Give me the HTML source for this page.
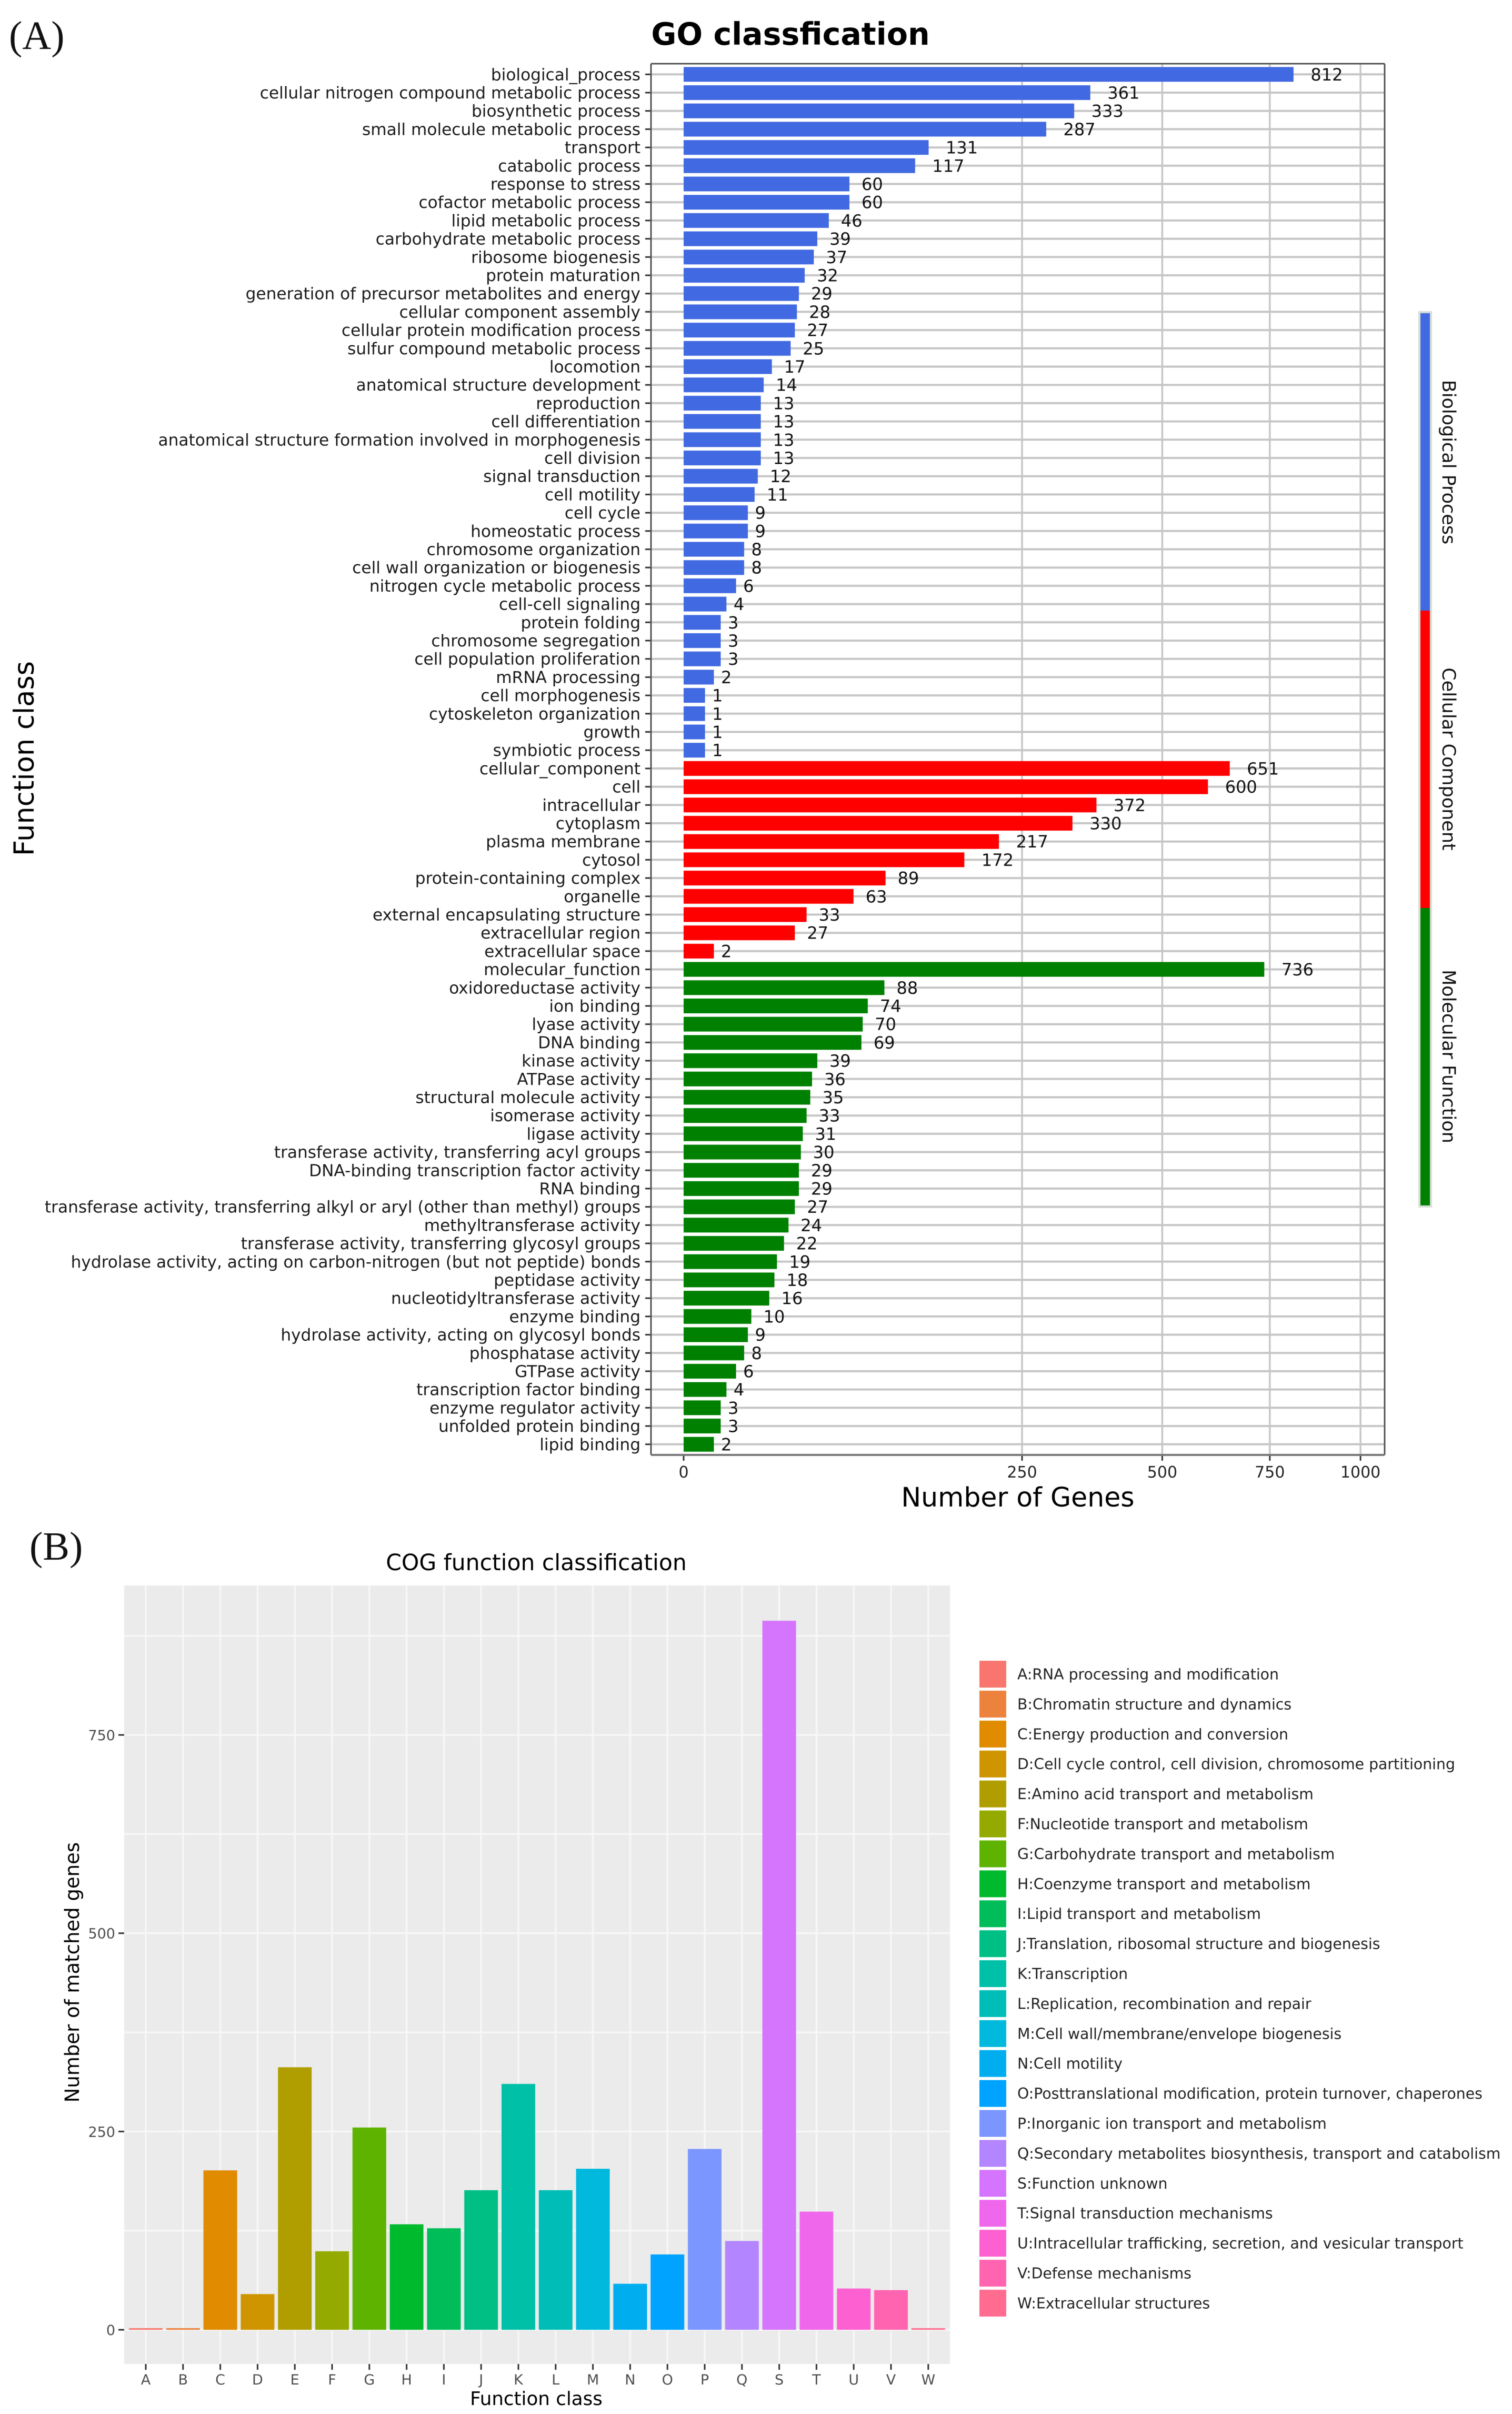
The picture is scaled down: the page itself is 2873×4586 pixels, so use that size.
<!DOCTYPE html>
<html lang="en">
<head>
<meta charset="utf-8">
<title>GO and COG classification</title>
<style>
  html, body { margin: 0; padding: 0; background: #fff; }
  svg { display: block; filter: blur(0.8px); }
  text { font-family: "DejaVu Sans", "Liberation Sans", sans-serif; }
  .serif { font-family: "Liberation Serif", serif; }
</style>
</head>
<body>
<svg id="figure" xmlns="http://www.w3.org/2000/svg" width="2873" height="4586" viewBox="0 0 2873 4586">
  <rect x="0" y="0" width="2873" height="4586" fill="#ffffff"/>
  <text class="serif" x="17" y="93" font-size="76" fill="#111">(A)</text>
  <text class="serif" x="56" y="2963" font-size="76" fill="#111">(B)</text>

  <g id="go-chart">
    <text x="1502" y="85" font-size="58.5" font-weight="bold" text-anchor="middle" fill="#000">GO classfication</text>
    <text transform="translate(64,1441) rotate(-90)" font-size="52.5" text-anchor="middle" fill="#000">Function class</text>
    <text x="1934" y="2862" font-size="50.5" text-anchor="middle" fill="#000">Number of Genes</text>
  </g>

  <g id="cog-chart">
    <text x="1019" y="2983" font-size="42.5" text-anchor="middle" fill="#000">COG function classification</text>
    <text transform="translate(150,3747) rotate(-90)" font-size="37" text-anchor="middle" fill="#000">Number of matched genes</text>
    <text x="1019" y="4569" font-size="35.7" text-anchor="middle" fill="#000">Function class</text>
  </g>
</svg>

<script>
// ---------- GO chart data ----------
const goCategories = [
  "biological_process","cellular nitrogen compound metabolic process","biosynthetic process","small molecule metabolic process","transport","catabolic process","response to stress","cofactor metabolic process","lipid metabolic process","carbohydrate metabolic process","ribosome biogenesis","protein maturation","generation of precursor metabolites and energy","cellular component assembly","cellular protein modification process","sulfur compound metabolic process","locomotion","anatomical structure development","reproduction","cell differentiation","anatomical structure formation involved in morphogenesis","cell division","signal transduction","cell motility","cell cycle","homeostatic process","chromosome organization","cell wall organization or biogenesis","nitrogen cycle metabolic process","cell-cell signaling","protein folding","chromosome segregation","cell population proliferation","mRNA processing","cell morphogenesis","cytoskeleton organization","growth","symbiotic process",
  "cellular_component","cell","intracellular","cytoplasm","plasma membrane","cytosol","protein-containing complex","organelle","external encapsulating structure","extracellular region","extracellular space",
  "molecular_function","oxidoreductase activity","ion binding","lyase activity","DNA binding","kinase activity","ATPase activity","structural molecule activity","isomerase activity","ligase activity","transferase activity, transferring acyl groups","DNA-binding transcription factor activity","RNA binding","transferase activity, transferring alkyl or aryl (other than methyl) groups","methyltransferase activity","transferase activity, transferring glycosyl groups","hydrolase activity, acting on carbon-nitrogen (but not peptide) bonds","peptidase activity","nucleotidyltransferase activity","enzyme binding","hydrolase activity, acting on glycosyl bonds","phosphatase activity","GTPase activity","transcription factor binding","enzyme regulator activity","unfolded protein binding","lipid binding"
];
const goValues = [
  812,361,333,287,131,117,60,60,46,39,37,32,29,28,27,25,17,14,13,13,13,13,12,11,9,9,8,8,6,4,3,3,3,2,1,1,1,1,
  651,600,372,330,217,172,89,63,33,27,2,
  736,88,74,70,69,39,36,35,33,31,30,29,29,27,24,22,19,18,16,10,9,8,6,4,3,3,2
];
const goGroups = ["Biological Process","Cellular Component","Molecular Function"];
const goGroupSizes = [38,11,27];
const goGroupColors = ["#4169e1","#ff0000","#008000"];
const goXTicks = [0,250,500,750,1000];

// ---------- COG chart data ----------
const cogCategories = ["A","B","C","D","E","F","G","H","I","J","K","L","M","N","O","P","Q","S","T","U","V","W"];
const cogValues = [2,2,201,45,331,99,255,133,128,176,310,176,203,58,95,228,112,894,149,52,50,2];
const cogDescriptions = [
  "RNA processing and modification","Chromatin structure and dynamics","Energy production and conversion","Cell cycle control, cell division, chromosome partitioning","Amino acid transport and metabolism","Nucleotide transport and metabolism","Carbohydrate transport and metabolism","Coenzyme transport and metabolism","Lipid transport and metabolism","Translation, ribosomal structure and biogenesis","Transcription","Replication, recombination and repair","Cell wall/membrane/envelope biogenesis","Cell motility","Posttranslational modification, protein turnover, chaperones","Inorganic ion transport and metabolism","Secondary metabolites biosynthesis, transport and catabolism","Function unknown","Signal transduction mechanisms","Intracellular trafficking, secretion, and vesicular transport","Defense mechanisms","Extracellular structures"
];
const cogColors = ["#F8766D","#EC823C","#E08B00","#CE9500","#B09E00","#94AA00","#5EB300","#00BA2E","#00BC59","#00BF85","#00C0A8","#00BDB8","#00B9DC","#00AEF0","#00A3FF","#7C96FF","#B385FF","#D575FE","#EF67EB","#FD61D1","#FF64B0","#FF6C90"];
const cogYTicks = [0,250,500,750];
const cogYMinorTicks = [125,375,625,875];

const NS = "http://www.w3.org/2000/svg";
const svg = document.getElementById("figure");
const goRoot = document.getElementById("go-chart");
const cogRoot = document.getElementById("cog-chart");

function mk(tag, parent, attrs, txt) {
  const el = document.createElementNS(NS, tag);
  for (const k in attrs) el.setAttribute(k, attrs[k]);
  if (txt !== undefined) el.textContent = txt;
  parent.appendChild(el);
  return el;
}
function slug(s) {
  return String(s).toLowerCase().replace(/[^a-z0-9]+/g, "-").replace(/^-|-$/g, "");
}

// ---------- GO axes ----------
const goPanel = { left: 1237, right: 2631, top: 121, bottom: 2764 };
const goXZero = 1299, goXUnit = 40.67;
function goX(v) { return goXZero + goXUnit * Math.sqrt(v); }
const goRowTop = 141.3, goRowStep = 34.7, goBarH = 28;
function goY(i) { return goRowTop + i * goRowStep; }
function goGroupIndex(i) {
  let acc = 0;
  for (let g = 0; g < goGroupSizes.length; g++) {
    acc += goGroupSizes[g];
    if (i < acc) return g;
  }
  return goGroupSizes.length - 1;
}

let el = mk("rect", goRoot, { x: goPanel.left, y: goPanel.top, width: goPanel.right - goPanel.left, height: goPanel.bottom - goPanel.top, fill: "#ffffff" });



goCategories.forEach(function (c, i) {
  const line = mk("line", goRoot, { x1: goPanel.left, x2: goPanel.right, y1: goY(i), y2: goY(i), stroke: "#c6c6c6", "stroke-width": 4 });
  
  
});
goXTicks.forEach(function (t) {
  if (t === 0) return;
  const line = mk("line", goRoot, { x1: goX(t), x2: goX(t), y1: goPanel.top, y2: goPanel.bottom, stroke: "#c6c6c6", "stroke-width": 3.5 });
  
  
});

goCategories.forEach(function (c, i) {
  const y = goY(i), v = goValues[i], color = goGroupColors[goGroupIndex(i)];
  const bar = mk("rect", goRoot, { x: goX(0), y: y - goBarH / 2, width: goX(v) - goX(0), height: goBarH, fill: color });
  
  

  const tick = mk("line", goRoot, { x1: goPanel.left - 11, x2: goPanel.left, y1: y, y2: y, stroke: "#333", "stroke-width": 3 });
  
  

  const label = mk("text", goRoot, { x: goPanel.left - 20, y: y + 11, "font-size": 31.2, "text-anchor": "end", fill: "#1a1a1a" }, c);
  
  

  const digits = String(v).length;
  const val = mk("text", goRoot, { x: goX(v) + 4 + digits * 9.5, y: y + 11.5, "font-size": 32, fill: "#111" }, v);
  
  
});

goXTicks.forEach(function (t) {
  const tick = mk("line", goRoot, { x1: goX(t), x2: goX(t), y1: goPanel.bottom, y2: goPanel.bottom + 11, stroke: "#333", "stroke-width": 3 });
  
  
  const label = mk("text", goRoot, { x: goX(t), y: 2807, "font-size": 30, "text-anchor": "middle", fill: "#222" }, t);
  
  
});

[["top", goPanel.left, goPanel.top, goPanel.right, goPanel.top, "#555", 3],
 ["left", goPanel.left, goPanel.top, goPanel.left, goPanel.bottom, "#555", 3],
 ["right", goPanel.right, goPanel.top, goPanel.right, goPanel.bottom, "#555", 3],
 ["bottom", goPanel.left, goPanel.bottom, goPanel.right, goPanel.bottom, "#777", 4]].forEach(function (b) {
  const border = mk("line", goRoot, { x1: b[1], y1: b[2], x2: b[3], y2: b[4], stroke: b[5], "stroke-width": b[6] });
  
  
});

// group side strips
const goStripTop = 595, goStripBottom = 2290, goStripX = 2699, goStripW = 18;
const goStripStep = (goStripBottom - goStripTop) / goGroups.length;
goGroups.forEach(function (g, i) {
  const y0 = goStripTop + i * goStripStep;
  const halo = mk("rect", goRoot, { x: goStripX - 4, y: y0 - (i === 0 ? 4 : 0), width: goStripW + 8, height: goStripStep + (i === 0 || i === 2 ? 4 : 0), fill: "#d6dfd6" });
  
  
  const strip = mk("rect", goRoot, { x: goStripX, y: y0, width: goStripW, height: goStripStep, fill: goGroupColors[i] });
  
  
  const cy = [878, 1442, 2007][i];
  const lab = mk("text", goRoot, { transform: "translate(2741," + cy + ") rotate(90)", "font-size": 35, "text-anchor": "middle", fill: "#111" }, g);
  
  
});

// ---------- COG axes ----------
const cogPanel = { left: 236, right: 1805, top: 3012, bottom: 4491 };
const cogYZero = 4426, cogYUnit = 1.5067;
function cogY(v) { return cogYZero - cogYUnit * v; }
const cogXFirst = 277, cogXStep = 70.8, cogBarW = 64;
function cogX(i) { return cogXFirst + i * cogXStep; }

el = mk("rect", cogRoot, { x: cogPanel.left, y: cogPanel.top, width: cogPanel.right - cogPanel.left, height: cogPanel.bottom - cogPanel.top, fill: "#ebebeb" });



cogYMinorTicks.concat(cogYTicks).forEach(function (t) {
  const line = mk("line", cogRoot, { x1: cogPanel.left, x2: cogPanel.right, y1: cogY(t), y2: cogY(t), stroke: "#f7f7f7", "stroke-width": 3.5 });
  
  
});
cogCategories.forEach(function (c, i) {
  const line = mk("line", cogRoot, { x1: cogX(i), x2: cogX(i), y1: cogPanel.top, y2: cogPanel.bottom, stroke: "#f7f7f7", "stroke-width": 3.5 });
  
  
});

cogCategories.forEach(function (c, i) {
  const bar = mk("rect", cogRoot, { x: cogX(i) - cogBarW / 2, y: cogY(cogValues[i]), width: cogBarW, height: cogY(0) - cogY(cogValues[i]), fill: cogColors[i] });
  
  

  const tick = mk("line", cogRoot, { x1: cogX(i), x2: cogX(i), y1: cogPanel.bottom, y2: cogPanel.bottom + 11, stroke: "#333", "stroke-width": 3 });
  
  

  const label = mk("text", cogRoot, { x: cogX(i), y: 4530, "font-size": 27, "text-anchor": "middle", fill: "#4d4d4d" }, c);
  
  

  const legendY = 3180.5 + i * 56.9;
  const swatch = mk("rect", cogRoot, { x: 1861, y: legendY - 25.5, width: 51, height: 51, fill: cogColors[i] });
  
  

  const entry = mk("text", cogRoot, { x: 1933, y: legendY + 10, "font-size": 28.3, fill: "#222" }, c + ":" + cogDescriptions[i]);
  
  
});

cogYTicks.forEach(function (t) {
  const tick = mk("line", cogRoot, { x1: cogPanel.left - 11, x2: cogPanel.left, y1: cogY(t), y2: cogY(t), stroke: "#333", "stroke-width": 3 });
  
  
  const label = mk("text", cogRoot, { x: cogPanel.left - 17, y: cogY(t) + 10, "font-size": 27, "text-anchor": "end", fill: "#4d4d4d" }, t);
  
  
});
</script>
</body>
</html>
